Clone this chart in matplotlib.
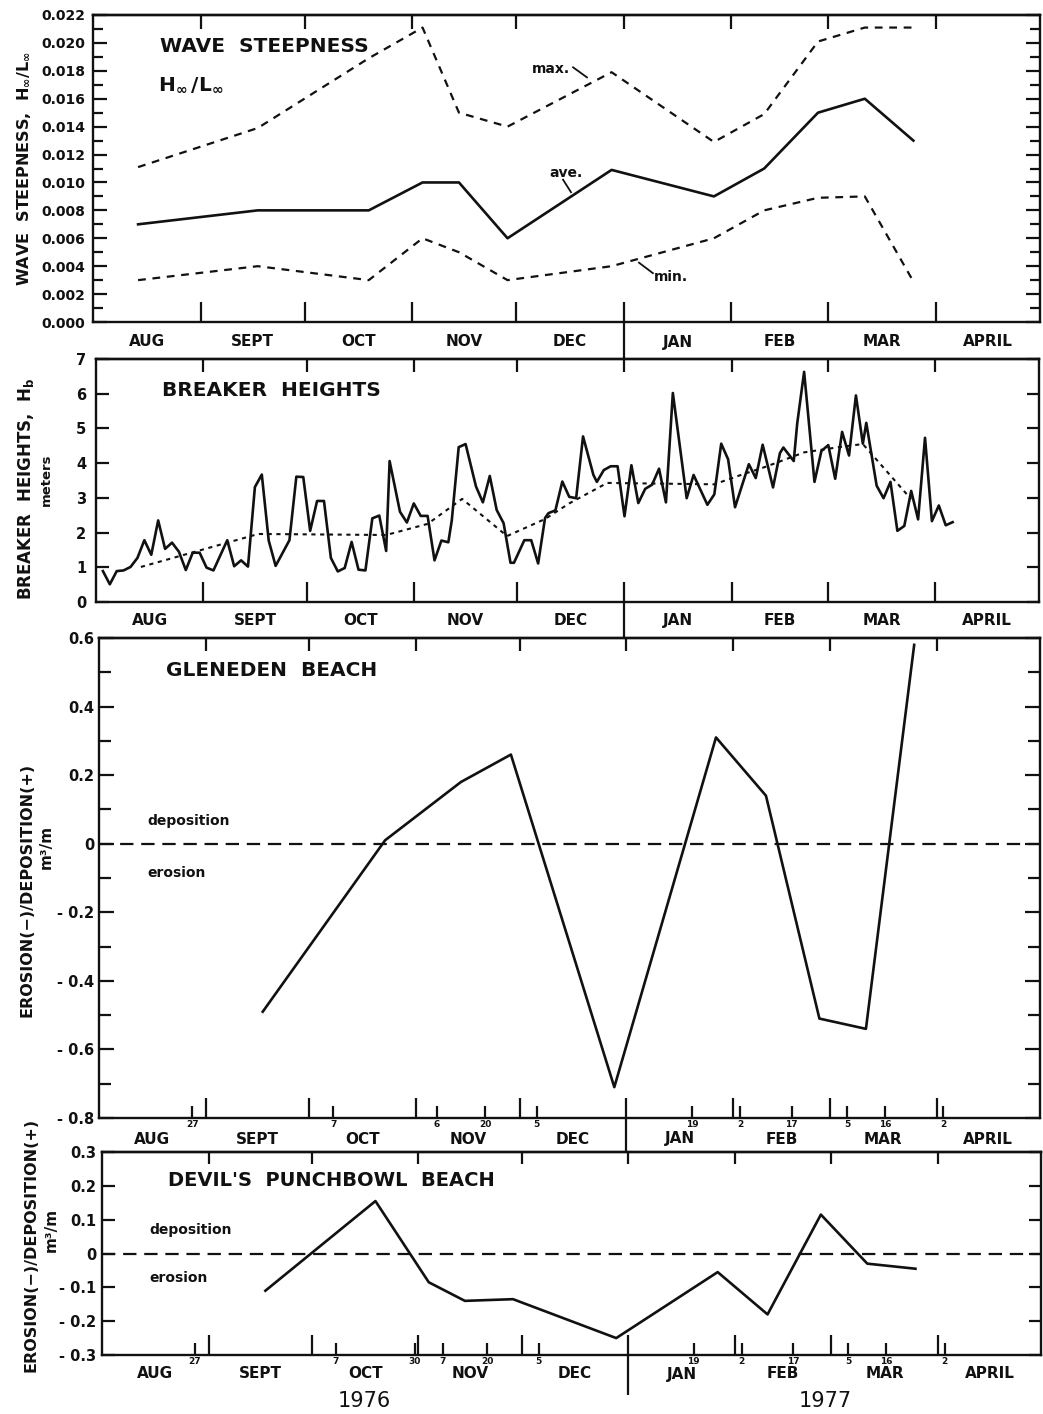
import numpy as np
import matplotlib
matplotlib.use("Agg")
import matplotlib.pyplot as plt
from matplotlib.transforms import blended_transform_factory as blend
from matplotlib.ticker import (MultipleLocator, FuncFormatter, FixedLocator,
                               FixedFormatter, NullFormatter, NullLocator)

plt.rcParams["font.family"] = ["DejaVu Sans"]
plt.rcParams["font.weight"] = "bold"
plt.rcParams["mathtext.fontset"] = "dejavusans"
plt.rcParams["mathtext.default"] = "bf"

INK = "#111111"
W, H = 1043, 1414

ORIGIN = np.datetime64("1976-08-01")


def day(d):
    return float((np.datetime64(d) - ORIGIN).astype(int))


def survey_pos(dates):
    # a survey is marked at the close of its day
    return np.array([day(d) + 1 for d in dates])


def midpoints(pos):
    return (pos[:-1] + pos[1:]) / 2


# ---------------------------------------------------------------- data
month_starts = ["1976-08-01", "1976-09-01", "1976-10-01", "1976-11-01",
                "1976-12-01", "1977-01-01", "1977-02-01", "1977-03-01",
                "1977-04-01", "1977-05-01"]
month_names = ["AUG", "SEPT", "OCT", "NOV", "DEC", "JAN", "FEB", "MAR", "APRIL"]

# wave steepness, averaged over the intervals between surveys
steep_surveys = ["1976-07-30", "1976-08-27", "1976-10-07", "1976-10-30",
                 "1976-11-07", "1976-11-20", "1976-12-05", "1977-01-19",
                 "1977-02-02", "1977-02-17", "1977-03-05", "1977-03-16",
                 "1977-04-02"]
steep_max = [0.0111, 0.0139, 0.0189, 0.0211, 0.0150, 0.0140, 0.0179, 0.0129,
             0.0149, 0.0201, 0.0211, 0.0211]
steep_ave = [0.0070, 0.0080, 0.0080, 0.0100, 0.0100, 0.0060, 0.0109, 0.0090,
             0.0110, 0.0150, 0.0160, 0.0130]
steep_min = [0.0030, 0.0040, 0.0030, 0.0060, 0.0050, 0.0030, 0.0040, 0.0060,
             0.0080, 0.0089, 0.0090, 0.0029]

# breaker heights (days after 1 Aug 1976, metres)
breaker_day = [2, 4, 6, 8, 10, 12, 14, 16, 18, 20,
               22, 24, 26, 28, 30, 32, 34, 38, 40, 42,
               44, 46, 48, 50, 52, 56, 58, 60, 62, 64,
               66, 68, 70, 72, 74, 76, 78, 80, 82, 84,
               85, 88, 90, 92, 94, 96, 98, 100, 102, 103,
               105, 107, 110, 112, 114, 116, 118, 120, 121, 124,
               126, 128, 130, 131, 133, 135, 137, 139, 141, 144,
               145, 147, 149, 151, 153, 155, 157, 159, 161, 163,
               165, 167, 171, 173, 177, 179, 181, 183, 185, 189,
               191, 193, 196, 198, 199, 202, 203, 205, 208, 210,
               212, 214, 216, 218, 220, 222, 223, 226, 228, 230,
               232, 234, 236, 238, 240, 242, 244, 246, 248]
breaker_hb = [0.89, 0.51, 0.89, 0.91, 1.01, 1.27, 1.78, 1.36, 2.35, 1.53,
              1.71, 1.45, 0.92, 1.42, 1.42, 0.99, 0.91, 1.78, 1.03, 1.20,
              1.02, 3.31, 3.67, 1.77, 1.04, 1.78, 3.61, 3.60, 2.05, 2.91,
              2.91, 1.27, 0.88, 0.98, 1.73, 0.93, 0.91, 2.41, 2.49, 1.47,
              4.06, 2.60, 2.29, 2.84, 2.48, 2.48, 1.20, 1.77, 1.72, 2.35,
              4.46, 4.55, 3.33, 2.87, 3.63, 2.65, 2.27, 1.13, 1.13, 1.78,
              1.78, 1.11, 2.42, 2.56, 2.64, 3.47, 3.03, 2.99, 4.77, 3.66,
              3.46, 3.80, 3.91, 3.91, 2.47, 3.94, 2.85, 3.26, 3.38, 3.84,
              2.87, 6.02, 2.99, 3.66, 2.80, 3.10, 4.56, 4.11, 2.73, 3.97,
              3.57, 4.53, 3.30, 4.29, 4.45, 4.06, 5.14, 6.63, 3.46, 4.35,
              4.52, 3.55, 4.90, 4.22, 5.95, 4.56, 5.16, 3.35, 2.99, 3.46,
              2.05, 2.19, 3.20, 2.38, 4.73, 2.33, 2.78, 2.21, 2.30]
# running mean of breaker heights
trend_day = [13, 47, 84, 96, 106, 119, 130, 137, 148, 179, 187, 194, 205,
             215, 222, 236]
trend_hb = [1.01, 1.96, 1.93, 2.25, 2.97, 1.90, 2.39, 2.84, 3.43, 3.39, 3.67,
            3.90, 4.31, 4.46, 4.55, 2.96]

# Gleneden Beach profile surveys and volume change per interval (m3/m)
gleneden_surveys = ["1976-08-27", "1976-10-07", "1976-11-06", "1976-11-20",
                    "1976-12-05", "1977-01-19", "1977-02-02", "1977-02-17",
                    "1977-03-05", "1977-03-16", "1977-04-02"]
gleneden_change = [-0.49, 0.01, 0.18, 0.26, -0.71, 0.31, 0.14, -0.51, -0.54,
                   0.58]

# Devil's Punchbowl Beach profile surveys and volume change per interval
punchbowl_surveys = ["1976-08-27", "1976-10-07", "1976-10-30", "1976-11-07",
                     "1976-11-20", "1976-12-05", "1977-01-19", "1977-02-02",
                     "1977-02-17", "1977-03-05", "1977-03-16", "1977-04-02"]
punchbowl_change = [-0.11, 0.155, -0.085, -0.14, -0.135, -0.25, -0.055, -0.18,
                    0.115, -0.03, -0.045]

# ---------------------------------------------------------------- layout
fig = plt.figure(figsize=(W / 100, H / 100), dpi=100)
fig.patch.set_facecolor("white")

month_pos = np.array([day(m) for m in month_starts])
inner_months = month_pos[1:-1]
jan1 = day("1977-01-01")


def px_axes(left, right, top, bottom):
    ax = fig.add_axes([left / W, 1 - bottom / H, (right - left) / W,
                       (bottom - top) / H])
    ax._px_height = bottom - top
    return ax


def fig_text(x, y, s, **kw):
    kw.setdefault("color", INK)
    return fig.text(x / W, 1 - y / H, s, **kw)


def frame(ax, label_gap, divider_px, top_len=9.5, bottom_len=14.5):
    ax.set_xlim(month_pos[0], month_pos[-1])
    for sp in ax.spines.values():
        sp.set_linewidth(1.7)
        sp.set_color(INK)
    ax.set_xticks(inner_months)
    ax.xaxis.set_major_formatter(NullFormatter())
    ax.xaxis.set_minor_locator(NullLocator())
    ax.tick_params(axis="x", which="major", direction="in", length=bottom_len,
                   width=1.6, color=INK, bottom=True, top=False)
    sec = ax.secondary_xaxis("top")
    sec.set_xticks(inner_months)
    sec.tick_params(axis="x", direction="in", length=top_len, width=1.6,
                    color=INK, labeltop=False)
    sec.spines["top"].set_linewidth(1.7)
    ax.tick_params(axis="y", which="both", direction="in", left=True,
                   right=True, width=1.6, color=INK, labelsize=10.5,
                   labelcolor=INK)
    ax.tick_params(axis="y", which="major", length=10)
    ax.tick_params(axis="y", which="minor", length=7)
    tr = blend(ax.transData, ax.transAxes)
    hpx = ax._px_height
    for a, b, name in zip(month_pos[:-1], month_pos[1:], month_names):
        ax.text((a + b) / 2, -label_gap / hpx, name, transform=tr,
                ha="center", va="center", fontsize=11, color=INK)
    # year divider running through the month-name strip
    ax.plot([jan1, jan1], [0, -divider_px / hpx], transform=tr, color=INK,
            lw=1.6, clip_on=False, solid_capstyle="butt")


def survey_ticks(ax, dates):
    pos = survey_pos(dates)
    labels = [str(int(d[-2:])) for d in dates]
    ax.xaxis.set_minor_locator(FixedLocator(pos))
    ax.xaxis.set_minor_formatter(FixedFormatter(labels))
    ax.tick_params(axis="x", which="minor", direction="in", length=9,
                   width=1.6, color=INK, labelsize=6.5, pad=1.5,
                   labelcolor=INK, bottom=True, labelbottom=True)


def signed(v, _):
    if abs(v) < 1e-9:
        return "0"
    if v < 0:
        return "- %.1f" % abs(v)
    return "%.1f" % v


# ---- panel 1: wave steepness
ax1 = px_axes(93, 1040, 15, 322)
frame(ax1, 20, 37, top_len=10)
ax1.set_ylim(0, 0.022)
ax1.yaxis.set_major_locator(MultipleLocator(0.002))
ax1.yaxis.set_minor_locator(MultipleLocator(0.001))
ax1.yaxis.set_major_formatter(FuncFormatter(lambda v, _: "%.3f" % v))
ax1.tick_params(axis="y", which="major", pad=5.5, labelsize=10)
steep_x = midpoints(survey_pos(steep_surveys))
ax1.plot(steep_x, steep_max, color=INK, lw=1.6, ls=(0, (3.5, 3)))
ax1.plot(steep_x, steep_ave, color=INK, lw=1.9)
ax1.plot(steep_x, steep_min, color=INK, lw=1.6, ls=(0, (3.5, 3)))
ax1.text(132, 0.0181, "max.", ha="center", va="center", fontsize=10, color=INK)
ax1.plot([138.4, 142.4], [0.01825, 0.01753], color=INK, lw=1.3)
ax1.text(136.3, 0.0107, "ave.", ha="center", va="center", fontsize=10, color=INK)
ax1.plot([135.5, 137.8], [0.0102, 0.0093], color=INK, lw=1.3)
ax1.text(166.6, 0.0032, "min.", ha="center", va="center", fontsize=10, color=INK)
ax1.plot([157.4, 161.4], [0.00425, 0.0035], color=INK, lw=1.3)
fig_text(160, 47, "WAVE  STEEPNESS", fontsize=14.5, va="center", ha="left")
fig_text(158, 85, r"$H_{\infty}\,/L_{\infty}$", fontsize=14.5, va="center",
         ha="left")
fig_text(24, 169, r"WAVE  STEEPNESS,  $H_{\infty}/L_{\infty}$", rotation=90,
         fontsize=11.5, ha="center", va="center")

# ---- panel 2: breaker heights
ax2 = px_axes(96, 1039, 359, 602)
frame(ax2, 19, 36, top_len=9)
ax2.set_ylim(0, 7)
ax2.yaxis.set_major_locator(MultipleLocator(1))
ax2.yaxis.set_minor_locator(NullLocator())
ax2.yaxis.set_major_formatter(FuncFormatter(lambda v, _: "%d" % round(v)))
ax2.tick_params(axis="y", which="major", pad=7, length=9)
ax2.plot(breaker_day, breaker_hb, color=INK, lw=1.9)
ax2.plot(trend_day, trend_hb, color=INK, lw=1.5, ls=(0, (2, 2.2)))
fig_text(162, 390, "BREAKER  HEIGHTS", fontsize=14.5, va="center", ha="left")
fig_text(26, 489, r"BREAKER  HEIGHTS,  $H_b$", rotation=90, fontsize=12,
         ha="center", va="center")
fig_text(46, 480, "meters", rotation=90, fontsize=9.5, ha="center",
         va="center")

# ---- panel 3: Gleneden Beach
ax3 = px_axes(99, 1040, 638, 1118)
frame(ax3, 21, 34, top_len=9)
survey_ticks(ax3, gleneden_surveys)
ax3.set_ylim(-0.8, 0.6)
ax3.yaxis.set_major_locator(MultipleLocator(0.2))
ax3.yaxis.set_minor_locator(MultipleLocator(0.1))
ax3.yaxis.set_major_formatter(FuncFormatter(signed))
ax3.tick_params(axis="y", which="major", pad=3.5, length=10.5)
ax3.tick_params(axis="y", which="minor", length=8.5)
ax3.axhline(0, color=INK, lw=1.6, ls=(0, (6, 3.5)))
ax3.plot(midpoints(survey_pos(gleneden_surveys)), gleneden_change, color=INK,
         lw=1.9)
fig_text(166, 670, "GLENEDEN  BEACH", fontsize=14.5, va="center", ha="left")
fig_text(147, 821, "deposition", fontsize=10, va="center", ha="left")
fig_text(147, 873, "erosion", fontsize=10, va="center", ha="left")
fig_text(27, 890, "EROSION(\u2212)/DEPOSITION(+)", rotation=90, fontsize=11.5,
         ha="center", va="center")
fig_text(46, 847, "m\u00b3/m", rotation=90, fontsize=11, ha="center",
         va="center")

# ---- panel 4: Devil's Punchbowl Beach
ax4 = px_axes(102, 1041, 1152, 1355)
frame(ax4, 19, 40, top_len=8.5)
survey_ticks(ax4, punchbowl_surveys)
ax4.set_ylim(-0.3, 0.3)
ax4.yaxis.set_major_locator(MultipleLocator(0.1))
ax4.yaxis.set_minor_locator(NullLocator())
ax4.yaxis.set_major_formatter(FuncFormatter(signed))
ax4.tick_params(axis="y", which="major", pad=4, length=9)
ax4.axhline(0, color=INK, lw=1.6, ls=(0, (6, 3.5)))
ax4.plot(midpoints(survey_pos(punchbowl_surveys)), punchbowl_change,
         color=INK, lw=1.9)
fig_text(168, 1180, "DEVIL'S  PUNCHBOWL  BEACH", fontsize=14, va="center",
         ha="left")
fig_text(149, 1230, "deposition", fontsize=10, va="center", ha="left")
fig_text(149, 1278, "erosion", fontsize=10, va="center", ha="left")
fig_text(31, 1245, "EROSION(\u2212)/DEPOSITION(+)", rotation=90, fontsize=11.5,
         ha="center", va="center")
fig_text(51, 1230, "m\u00b3/m", rotation=90, fontsize=11, ha="center",
         va="center")

fig_text(364, 1401, "1976", fontsize=15, fontweight="normal", ha="center",
         va="center")
fig_text(825, 1401, "1977", fontsize=15, fontweight="normal", ha="center",
         va="center")

fig.savefig("out.png", dpi=100, facecolor="white")
